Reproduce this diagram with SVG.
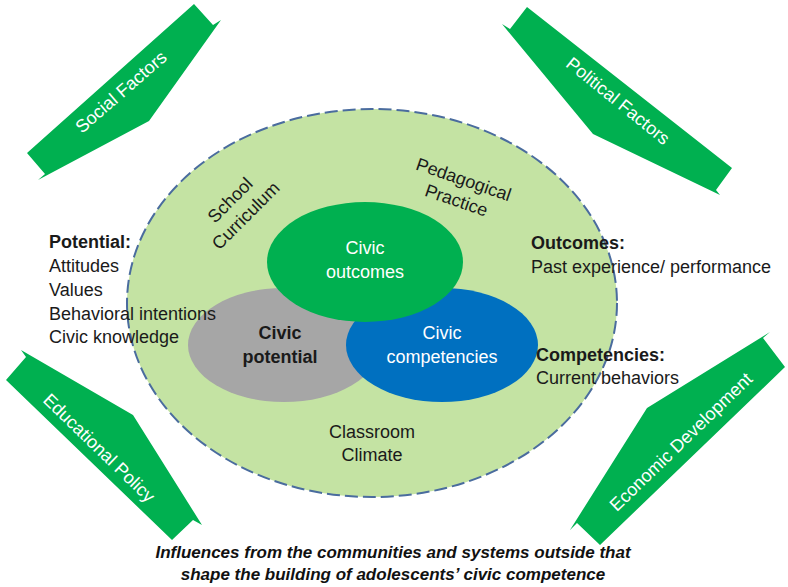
<svg xmlns="http://www.w3.org/2000/svg" width="788" height="587" viewBox="0 0 788 587">
  <style>
    text { font-family: "Liberation Sans", Arial, sans-serif; font-size: 18px; fill: #1a1a1a; }
    .mid { text-anchor: middle; }
    .white { fill: #ffffff; }
    .bold { font-weight: bold; }
    .band { fill: #00B050; }
    .caption { font-size: 17px; font-weight: bold; font-style: italic; text-anchor: middle; fill: #111; }
  </style>

  <rect width="788" height="587" fill="#ffffff"/>

  <!-- outer influence bands -->
  <g id="social-factors">
    <polygon class="band" points="194,4 27,153 45,174 38,180 149,121 221,20 213,25"/>
    <text class="mid white" transform="translate(121,92) rotate(-41)" y="6">Social Factors</text>
  </g>
  <g id="political-factors">
    <polygon class="band" points="527,7 732,168 716,190 720,195 593,134 502,24 510,29"/>
    <text class="mid white" transform="translate(618,101) rotate(39)" y="6">Political Factors</text>
  </g>
  <g id="educational-policy">
    <polygon class="band" points="6,380 172,540 193,520 202,525 133,415 21,350 26,357"/>
    <text class="mid white" transform="translate(99,448) rotate(44)" y="6">Educational Policy</text>
  </g>
  <g id="economic-development">
    <polygon class="band" points="785,367 600,545 577,523 570,530 647,408 770,332 763,338"/>
    <text class="mid white" transform="translate(681,442) rotate(-44)" y="6">Economic Development</text>
  </g>

  <!-- school context -->
  <g id="school-context">
    <ellipse cx="372" cy="303" rx="245" ry="194" fill="#C4E3A3" stroke="#4A6C9E" stroke-width="2" stroke-dasharray="13 5"/>
    <g transform="translate(238,208) rotate(-45)">
      <text class="mid" y="-5">School</text>
      <text class="mid" y="17">Curriculum</text>
    </g>
    <g transform="translate(460,190) rotate(19)">
      <text class="mid" y="-5">Pedagogical</text>
      <text class="mid" y="17">Practice</text>
    </g>
    <text class="mid" x="372" y="438">Classroom</text>
    <text class="mid" x="372" y="461">Climate</text>
  </g>

  <g id="civic-potential">
    <ellipse cx="284" cy="345" rx="96" ry="57" fill="#A6A6A6"/>
    <text class="mid bold" x="280" y="339">Civic</text>
    <text class="mid bold" x="280" y="363">potential</text>
  </g>

  <g id="civic-competencies">
    <ellipse cx="442" cy="345" rx="96" ry="57" fill="#0070C0"/>
    <text class="mid white" x="442" y="339">Civic</text>
    <text class="mid white" x="442" y="363">competencies</text>
  </g>

  <g id="civic-outcomes">
    <ellipse cx="365" cy="262" rx="98" ry="60" fill="#00B050"/>
    <text class="mid white" x="365" y="254">Civic</text>
    <text class="mid white" x="365" y="278">outcomes</text>
  </g>

  <!-- side legends -->
  <g id="potential-legend">
    <text class="bold" x="49" y="248">Potential:</text>
    <text x="49" y="272">Attitudes</text>
    <text x="49" y="296">Values</text>
    <text x="49" y="320">Behavioral intentions</text>
    <text x="49" y="343">Civic knowledge</text>
  </g>
  <g id="outcomes-legend">
    <text class="bold" x="531" y="249">Outcomes:</text>
    <text x="531" y="273">Past experience/ performance</text>
  </g>
  <g id="competencies-legend">
    <text class="bold" x="536" y="361">Competencies:</text>
    <text x="536" y="384">Current behaviors</text>
  </g>

  <g id="caption">
    <text class="caption" x="393" y="558">Influences from the communities and systems outside that</text>
    <text class="caption" x="393" y="580">shape the building of adolescents’ civic competence</text>
  </g>
</svg>
